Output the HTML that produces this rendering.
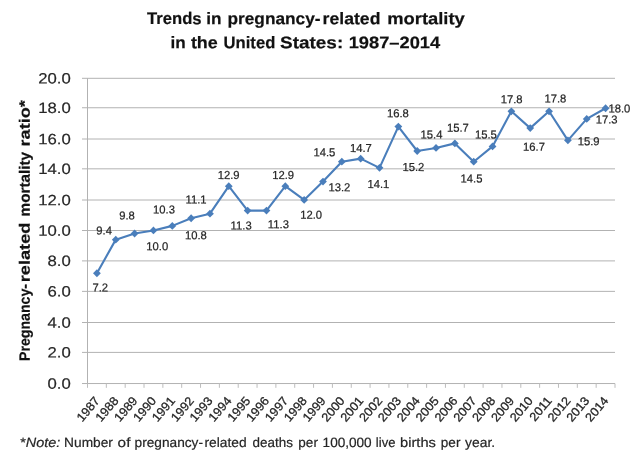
<!DOCTYPE html>
<html lang="en"><head><meta charset="utf-8">
<title>Trends in pregnancy-related mortality in the United States: 1987–2014</title>
<style>
html,body{margin:0;padding:0;background:#fff;}
body{width:640px;height:460px;overflow:hidden;}
svg{display:block;filter:blur(0.45px);}
text{font-family:"Liberation Sans", sans-serif;fill:#262626;}
.dl{stroke:#262626;stroke-width:0.24px;}
.xl{stroke:#262626;stroke-width:0.3px;}
.ytick{stroke:#262626;stroke-width:0.2px;}
.ytitle{stroke:#111;stroke-width:0.2px;}
.note{stroke:#262626;stroke-width:0.2px;}
.title{font-weight:bold;font-size:16.8px;fill:#111;stroke:#111;stroke-width:0.2px;}
.ytitle{font-weight:bold;font-size:15px;fill:#111;}
.ytick{font-size:15.0px;}
.dl{font-size:11.6px;}
.xl{font-size:12.2px;}
.note{font-size:13.4px;}
</style></head><body>
<svg width="640" height="460" viewBox="0 0 640 460">
<rect width="640" height="460" fill="#ffffff"/>
<text class="title" y="24.20" transform="rotate(0.03 306 24)"><tspan x="147.00" textLength="54.60" lengthAdjust="spacingAndGlyphs">Trends</tspan> <tspan x="206.30" textLength="15.30" lengthAdjust="spacingAndGlyphs">in</tspan> <tspan x="227.50" textLength="93.00" lengthAdjust="spacingAndGlyphs">pregnancy-</tspan><tspan x="322.60" textLength="57.80" lengthAdjust="spacingAndGlyphs">related</tspan> <tspan x="387.20" textLength="77.60" lengthAdjust="spacingAndGlyphs">mortality</tspan></text>
<text class="title" y="48.30" transform="rotate(0.03 306 48)"><tspan x="170.60" textLength="15.20" lengthAdjust="spacingAndGlyphs">in</tspan> <tspan x="190.90" textLength="26.90" lengthAdjust="spacingAndGlyphs">the</tspan> <tspan x="223.60" textLength="51.70" lengthAdjust="spacingAndGlyphs">United</tspan> <tspan x="280.00" textLength="63.20" lengthAdjust="spacingAndGlyphs">States:</tspan> <tspan x="348.70" textLength="91.50" lengthAdjust="spacingAndGlyphs">1987–2014</tspan></text>
<g stroke="#b2b2b2" stroke-width="1" fill="none">
<line x1="82" y1="383.54" x2="615.00" y2="383.54"/>
<line x1="82" y1="352.40" x2="615.00" y2="352.40"/>
<line x1="82" y1="322.50" x2="615.00" y2="322.50"/>
<line x1="82" y1="291.36" x2="615.00" y2="291.36"/>
<line x1="82" y1="260.90" x2="615.00" y2="260.90"/>
<line x1="82" y1="230.50" x2="615.00" y2="230.50"/>
<line x1="82" y1="200.00" x2="615.00" y2="200.00"/>
<line x1="82" y1="168.84" x2="615.00" y2="168.84"/>
<line x1="82" y1="139.00" x2="615.00" y2="139.00"/>
<line x1="82" y1="107.75" x2="615.00" y2="107.75"/>
<line x1="82" y1="78.30" x2="615.00" y2="78.30"/>
<line x1="87.50" y1="78.30" x2="87.50" y2="383.54"/>
</g>
<g stroke="#bdbdbd" stroke-width="1" fill="none">
<line x1="87.50" y1="383.54" x2="87.50" y2="387.84"/>
<line x1="106.34" y1="383.54" x2="106.34" y2="387.84"/>
<line x1="125.18" y1="383.54" x2="125.18" y2="387.84"/>
<line x1="144.02" y1="383.54" x2="144.02" y2="387.84"/>
<line x1="162.86" y1="383.54" x2="162.86" y2="387.84"/>
<line x1="181.70" y1="383.54" x2="181.70" y2="387.84"/>
<line x1="200.54" y1="383.54" x2="200.54" y2="387.84"/>
<line x1="219.38" y1="383.54" x2="219.38" y2="387.84"/>
<line x1="238.21" y1="383.54" x2="238.21" y2="387.84"/>
<line x1="257.05" y1="383.54" x2="257.05" y2="387.84"/>
<line x1="275.89" y1="383.54" x2="275.89" y2="387.84"/>
<line x1="294.73" y1="383.54" x2="294.73" y2="387.84"/>
<line x1="313.57" y1="383.54" x2="313.57" y2="387.84"/>
<line x1="332.41" y1="383.54" x2="332.41" y2="387.84"/>
<line x1="351.25" y1="383.54" x2="351.25" y2="387.84"/>
<line x1="370.09" y1="383.54" x2="370.09" y2="387.84"/>
<line x1="388.93" y1="383.54" x2="388.93" y2="387.84"/>
<line x1="407.77" y1="383.54" x2="407.77" y2="387.84"/>
<line x1="426.61" y1="383.54" x2="426.61" y2="387.84"/>
<line x1="445.45" y1="383.54" x2="445.45" y2="387.84"/>
<line x1="464.29" y1="383.54" x2="464.29" y2="387.84"/>
<line x1="483.12" y1="383.54" x2="483.12" y2="387.84"/>
<line x1="501.96" y1="383.54" x2="501.96" y2="387.84"/>
<line x1="520.80" y1="383.54" x2="520.80" y2="387.84"/>
<line x1="539.64" y1="383.54" x2="539.64" y2="387.84"/>
<line x1="558.48" y1="383.54" x2="558.48" y2="387.84"/>
<line x1="577.32" y1="383.54" x2="577.32" y2="387.84"/>
<line x1="596.16" y1="383.54" x2="596.16" y2="387.84"/>
<line x1="615.00" y1="383.54" x2="615.00" y2="387.84"/>
</g>
<text class="ytick" transform="translate(70.8 388.74) rotate(0.03) scale(1.115 1)" text-anchor="end">0.0</text>
<text class="ytick" transform="translate(70.8 357.60) rotate(0.03) scale(1.115 1)" text-anchor="end">2.0</text>
<text class="ytick" transform="translate(70.8 327.70) rotate(0.03) scale(1.115 1)" text-anchor="end">4.0</text>
<text class="ytick" transform="translate(70.8 296.56) rotate(0.03) scale(1.115 1)" text-anchor="end">6.0</text>
<text class="ytick" transform="translate(70.8 266.10) rotate(0.03) scale(1.115 1)" text-anchor="end">8.0</text>
<text class="ytick" transform="translate(70.8 235.70) rotate(0.03) scale(1.115 1)" text-anchor="end">10.0</text>
<text class="ytick" transform="translate(70.8 205.20) rotate(0.03) scale(1.115 1)" text-anchor="end">12.0</text>
<text class="ytick" transform="translate(70.8 174.04) rotate(0.03) scale(1.115 1)" text-anchor="end">14.0</text>
<text class="ytick" transform="translate(70.8 144.20) rotate(0.03) scale(1.115 1)" text-anchor="end">16.0</text>
<text class="ytick" transform="translate(70.8 112.95) rotate(0.03) scale(1.115 1)" text-anchor="end">18.0</text>
<text class="ytick" transform="translate(70.8 83.50) rotate(0.03) scale(1.115 1)" text-anchor="end">20.0</text>
<text class="ytitle" y="0.00" transform="translate(29.7 360.7) rotate(-89.97)"><tspan x="-0.30" textLength="77.00" lengthAdjust="spacingAndGlyphs">Pregnancy-</tspan><tspan x="78.40" textLength="59.70" lengthAdjust="spacingAndGlyphs">related</tspan> <tspan x="144.30" textLength="64.50" lengthAdjust="spacingAndGlyphs">mortality</tspan> <tspan x="214.30" textLength="46.10" lengthAdjust="spacingAndGlyphs">ratio*</tspan></text>
<polyline points="96.92,273.24 115.76,239.63 134.60,233.52 153.44,230.46 172.28,225.88 191.12,218.24 209.96,213.65 228.79,186.15 247.63,210.60 266.47,210.60 285.31,186.15 304.15,199.90 322.99,181.57 341.83,161.71 360.67,158.65 379.51,167.82 398.35,126.57 417.19,151.01 436.03,147.96 454.87,143.38 473.71,161.71 492.54,146.43 511.38,111.29 530.22,128.10 549.06,111.29 567.90,140.32 586.74,118.93 605.58,108.24" fill="none" stroke="#4a7ebb" stroke-width="2.1" stroke-linejoin="round" stroke-linecap="round"/>
<g fill="#4a7ebb">
<path d="M96.92 269.34L100.82 273.24L96.92 277.14L93.02 273.24Z"/>
<path d="M115.76 235.73L119.66 239.63L115.76 243.53L111.86 239.63Z"/>
<path d="M134.60 229.62L138.50 233.52L134.60 237.42L130.70 233.52Z"/>
<path d="M153.44 226.56L157.34 230.46L153.44 234.36L149.54 230.46Z"/>
<path d="M172.28 221.98L176.18 225.88L172.28 229.78L168.38 225.88Z"/>
<path d="M191.12 214.34L195.02 218.24L191.12 222.14L187.22 218.24Z"/>
<path d="M209.96 209.75L213.86 213.65L209.96 217.55L206.06 213.65Z"/>
<path d="M228.79 182.25L232.69 186.15L228.79 190.05L224.89 186.15Z"/>
<path d="M247.63 206.70L251.53 210.60L247.63 214.50L243.73 210.60Z"/>
<path d="M266.47 206.70L270.37 210.60L266.47 214.50L262.57 210.60Z"/>
<path d="M285.31 182.25L289.21 186.15L285.31 190.05L281.41 186.15Z"/>
<path d="M304.15 196.00L308.05 199.90L304.15 203.80L300.25 199.90Z"/>
<path d="M322.99 177.67L326.89 181.57L322.99 185.47L319.09 181.57Z"/>
<path d="M341.83 157.81L345.73 161.71L341.83 165.61L337.93 161.71Z"/>
<path d="M360.67 154.75L364.57 158.65L360.67 162.55L356.77 158.65Z"/>
<path d="M379.51 163.92L383.41 167.82L379.51 171.72L375.61 167.82Z"/>
<path d="M398.35 122.67L402.25 126.57L398.35 130.47L394.45 126.57Z"/>
<path d="M417.19 147.11L421.09 151.01L417.19 154.91L413.29 151.01Z"/>
<path d="M436.03 144.06L439.93 147.96L436.03 151.86L432.13 147.96Z"/>
<path d="M454.87 139.48L458.77 143.38L454.87 147.28L450.97 143.38Z"/>
<path d="M473.71 157.81L477.61 161.71L473.71 165.61L469.81 161.71Z"/>
<path d="M492.54 142.53L496.44 146.43L492.54 150.33L488.64 146.43Z"/>
<path d="M511.38 107.39L515.28 111.29L511.38 115.19L507.48 111.29Z"/>
<path d="M530.22 124.20L534.12 128.10L530.22 132.00L526.32 128.10Z"/>
<path d="M549.06 107.39L552.96 111.29L549.06 115.19L545.16 111.29Z"/>
<path d="M567.90 136.42L571.80 140.32L567.90 144.22L564.00 140.32Z"/>
<path d="M586.74 115.03L590.64 118.93L586.74 122.83L582.84 118.93Z"/>
<path d="M605.58 104.34L609.48 108.24L605.58 112.14L601.68 108.24Z"/>
</g>
<text class="dl" transform="translate(100.25 291.60) rotate(0.03) scale(0.97 1)" text-anchor="middle">7.2</text>
<text class="dl" transform="translate(104.10 234.50) rotate(0.03) scale(0.97 1)" text-anchor="middle">9.4</text>
<text class="dl" transform="translate(126.95 219.50) rotate(0.03) scale(0.97 1)" text-anchor="middle">9.8</text>
<text class="dl" transform="translate(157.20 250.20) rotate(0.03) scale(0.97 1)" text-anchor="middle">10.0</text>
<text class="dl" transform="translate(164.00 213.50) rotate(0.03) scale(0.97 1)" text-anchor="middle">10.3</text>
<text class="dl" transform="translate(195.90 239.20) rotate(0.03) scale(0.97 1)" text-anchor="middle">10.8</text>
<text class="dl" transform="translate(196.10 203.60) rotate(0.03) scale(0.97 1)" text-anchor="middle">11.1</text>
<text class="dl" transform="translate(228.62 179.00) rotate(0.03) scale(0.97 1)" text-anchor="middle">12.9</text>
<text class="dl" transform="translate(241.12 229.50) rotate(0.03) scale(0.97 1)" text-anchor="middle">11.3</text>
<text class="dl" transform="translate(278.38 228.30) rotate(0.03) scale(0.97 1)" text-anchor="middle">11.3</text>
<text class="dl" transform="translate(283.12 179.00) rotate(0.03) scale(0.97 1)" text-anchor="middle">12.9</text>
<text class="dl" transform="translate(311.12 218.75) rotate(0.03) scale(0.97 1)" text-anchor="middle">12.0</text>
<text class="dl" transform="translate(339.38 191.25) rotate(0.03) scale(0.97 1)" text-anchor="middle">13.2</text>
<text class="dl" transform="translate(324.38 156.25) rotate(0.03) scale(0.97 1)" text-anchor="middle">14.5</text>
<text class="dl" transform="translate(360.88 152.00) rotate(0.03) scale(0.97 1)" text-anchor="middle">14.7</text>
<text class="dl" transform="translate(378.38 188.00) rotate(0.03) scale(0.97 1)" text-anchor="middle">14.1</text>
<text class="dl" transform="translate(397.88 117.20) rotate(0.03) scale(0.97 1)" text-anchor="middle">16.8</text>
<text class="dl" transform="translate(413.38 171.00) rotate(0.03) scale(0.97 1)" text-anchor="middle">15.2</text>
<text class="dl" transform="translate(431.50 138.40) rotate(0.03) scale(0.97 1)" text-anchor="middle">15.4</text>
<text class="dl" transform="translate(457.88 131.75) rotate(0.03) scale(0.97 1)" text-anchor="middle">15.7</text>
<text class="dl" transform="translate(471.50 182.60) rotate(0.03) scale(0.97 1)" text-anchor="middle">14.5</text>
<text class="dl" transform="translate(485.88 138.40) rotate(0.03) scale(0.97 1)" text-anchor="middle">15.5</text>
<text class="dl" transform="translate(511.62 103.25) rotate(0.03) scale(0.97 1)" text-anchor="middle">17.8</text>
<text class="dl" transform="translate(534.00 150.75) rotate(0.03) scale(0.97 1)" text-anchor="middle">16.7</text>
<text class="dl" transform="translate(555.38 102.50) rotate(0.03) scale(0.97 1)" text-anchor="middle">17.8</text>
<text class="dl" transform="translate(588.62 145.30) rotate(0.03) scale(0.97 1)" text-anchor="middle">15.9</text>
<text class="dl" transform="translate(606.62 123.40) rotate(0.03) scale(0.97 1)" text-anchor="middle">17.3</text>
<text class="dl" transform="translate(619.38 112.50) rotate(0.03) scale(0.97 1)" text-anchor="middle">18.0</text>
<text class="xl" transform="translate(100.32 401.00) rotate(-50.0) scale(1.040 1)" text-anchor="end">1987</text>
<text class="xl" transform="translate(119.16 401.00) rotate(-50.0) scale(1.040 1)" text-anchor="end">1988</text>
<text class="xl" transform="translate(138.00 401.00) rotate(-50.0) scale(1.040 1)" text-anchor="end">1989</text>
<text class="xl" transform="translate(156.84 401.00) rotate(-50.0) scale(1.040 1)" text-anchor="end">1990</text>
<text class="xl" transform="translate(175.68 401.00) rotate(-50.0) scale(1.040 1)" text-anchor="end">1991</text>
<text class="xl" transform="translate(194.52 401.00) rotate(-50.0) scale(1.040 1)" text-anchor="end">1992</text>
<text class="xl" transform="translate(213.36 401.00) rotate(-50.0) scale(1.040 1)" text-anchor="end">1993</text>
<text class="xl" transform="translate(232.19 401.00) rotate(-50.0) scale(1.040 1)" text-anchor="end">1994</text>
<text class="xl" transform="translate(251.03 401.00) rotate(-50.0) scale(1.040 1)" text-anchor="end">1995</text>
<text class="xl" transform="translate(269.87 401.00) rotate(-50.0) scale(1.040 1)" text-anchor="end">1996</text>
<text class="xl" transform="translate(288.71 401.00) rotate(-50.0) scale(1.040 1)" text-anchor="end">1997</text>
<text class="xl" transform="translate(307.55 401.00) rotate(-50.0) scale(1.040 1)" text-anchor="end">1998</text>
<text class="xl" transform="translate(326.39 401.00) rotate(-50.0) scale(1.040 1)" text-anchor="end">1999</text>
<text class="xl" transform="translate(345.23 401.00) rotate(-50.0) scale(1.040 1)" text-anchor="end">2000</text>
<text class="xl" transform="translate(364.07 401.00) rotate(-50.0) scale(1.040 1)" text-anchor="end">2001</text>
<text class="xl" transform="translate(382.91 401.00) rotate(-50.0) scale(1.040 1)" text-anchor="end">2002</text>
<text class="xl" transform="translate(401.75 401.00) rotate(-50.0) scale(1.040 1)" text-anchor="end">2003</text>
<text class="xl" transform="translate(420.59 401.00) rotate(-50.0) scale(1.040 1)" text-anchor="end">2004</text>
<text class="xl" transform="translate(439.43 401.00) rotate(-50.0) scale(1.040 1)" text-anchor="end">2005</text>
<text class="xl" transform="translate(458.27 401.00) rotate(-50.0) scale(1.040 1)" text-anchor="end">2006</text>
<text class="xl" transform="translate(477.11 401.00) rotate(-50.0) scale(1.040 1)" text-anchor="end">2007</text>
<text class="xl" transform="translate(495.94 401.00) rotate(-50.0) scale(1.040 1)" text-anchor="end">2008</text>
<text class="xl" transform="translate(514.78 401.00) rotate(-50.0) scale(1.040 1)" text-anchor="end">2009</text>
<text class="xl" transform="translate(533.62 401.00) rotate(-50.0) scale(1.040 1)" text-anchor="end">2010</text>
<text class="xl" transform="translate(552.46 401.00) rotate(-50.0) scale(1.040 1)" text-anchor="end">2011</text>
<text class="xl" transform="translate(571.30 401.00) rotate(-50.0) scale(1.040 1)" text-anchor="end">2012</text>
<text class="xl" transform="translate(590.14 401.00) rotate(-50.0) scale(1.040 1)" text-anchor="end">2013</text>
<text class="xl" transform="translate(608.98 401.00) rotate(-50.0) scale(1.040 1)" text-anchor="end">2014</text>
<text class="note" y="447.00" transform="rotate(0.03 257 447)"><tspan x="20.2" textLength="40.2" lengthAdjust="spacingAndGlyphs">*<tspan font-style="italic">Note:</tspan></tspan> <tspan x="64.10" textLength="48.80" lengthAdjust="spacingAndGlyphs">Number</tspan> <tspan x="117.60" textLength="12.80" lengthAdjust="spacingAndGlyphs">of</tspan> <tspan x="134.60" textLength="68.40" lengthAdjust="spacingAndGlyphs">pregnancy-</tspan><tspan x="204.50" textLength="42.15" lengthAdjust="spacingAndGlyphs">related</tspan> <tspan x="252.60" textLength="40.30" lengthAdjust="spacingAndGlyphs">deaths</tspan> <tspan x="298.35" textLength="19.55" lengthAdjust="spacingAndGlyphs">per</tspan> <tspan x="322.60" textLength="49.05" lengthAdjust="spacingAndGlyphs">100,000</tspan> <tspan x="375.85" textLength="19.55" lengthAdjust="spacingAndGlyphs">live</tspan> <tspan x="400.10" textLength="35.80" lengthAdjust="spacingAndGlyphs">births</tspan> <tspan x="440.85" textLength="19.55" lengthAdjust="spacingAndGlyphs">per</tspan> <tspan x="465.10" textLength="30.05" lengthAdjust="spacingAndGlyphs">year.</tspan></text>
</svg>
</body></html>
